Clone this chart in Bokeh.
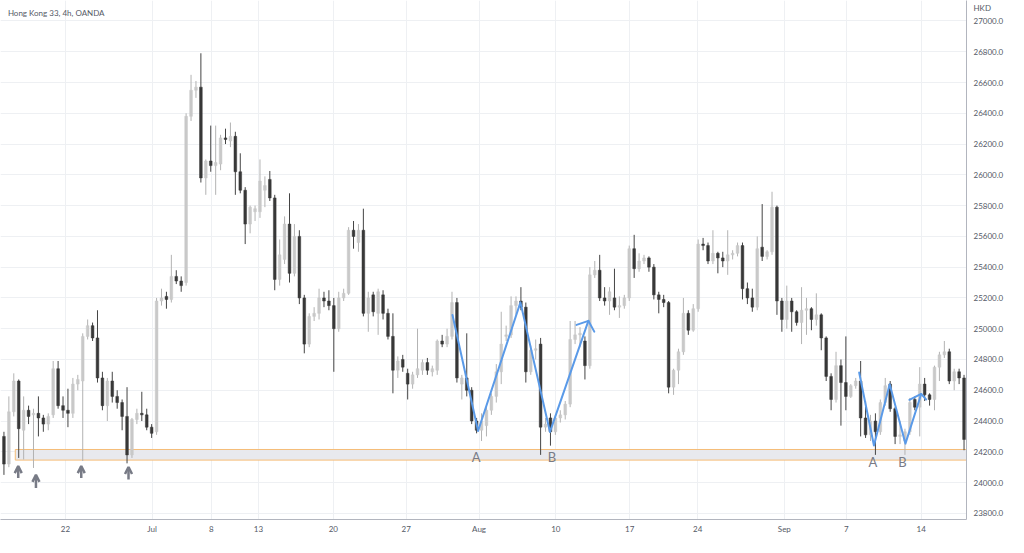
import numpy as np
from bokeh.plotting import figure
from bokeh.models import (ColumnDataSource, FixedTicker, NumeralTickFormatter,
                          Label, Arrow, OpenHead, Range1d)
from bokeh.embed import file_html
from bokeh.resources import INLINE
from bokeh.core.properties import value

# ---- Hong Kong 33, 4h (aggregated bars), OHLC ----
OPEN = [24300, 24120, 24460, 24660, 24340, 24470, 24440, 24450, 24420, 24380,
        24440, 24740, 24500, 24470, 24450, 24640, 24660, 24950, 25020, 24940,
        24680, 24500, 24660, 24560, 24520, 24430, 24180, 24410, 24450, 24440,
        24360, 24330, 25180, 25210, 25190, 25340, 25310, 25300, 26380, 26550,
        26570, 25980, 26090, 26060, 26070, 26240, 26220, 26250, 26020, 25900,
        25680, 25760, 25760, 25900, 25970, 25850, 25320, 25450, 25680, 25360,
        25600, 25200, 24900, 25080, 25100, 25200, 25180, 25150, 25000, 25200,
        25230, 25640, 25560, 25640, 25100, 25220, 25100, 25220, 25100, 24950,
        24730, 24800, 24710, 24640, 24700, 24730, 24780, 24720, 24730, 24920,
        24900, 24950, 25170, 24640, 24680, 24600, 24400, 24340, 24370, 24470,
        24560, 24720, 24950, 24960, 25150, 25180, 25140, 24720, 24860, 24900,
        24360, 24420, 24330, 24420, 24440, 24510, 24930, 24960, 24920, 24760,
        25350, 25380, 25200, 25180, 25200, 25140, 25150, 25200, 25520, 25390,
        25440, 25460, 25400, 25220, 25190, 25170, 24620, 24730, 24850, 25100,
        24990, 25130, 25550, 25540, 25440, 25490, 25460, 25440, 25480, 25490,
        25540, 25260, 25200, 25140, 25530, 25470, 25500, 25790, 25180, 25060,
        25180, 25110, 25040, 25120, 25130, 25060, 25090, 24940, 24690, 24540,
        24760, 24650, 24560, 24630, 24660, 24420, 24310, 24400, 24330, 24520,
        24640, 24480, 24300, 24270, 24330, 24540, 24490, 24640, 24570, 24540,
        24750, 24830, 24850, 24660, 24720, 24680]
HIGH = [24330, 24560, 24710, 24670, 24560, 24500, 24480, 24560, 24440, 24450,
        24790, 24790, 24560, 24610, 24680, 24700, 24970, 25060, 25040, 25120,
        24720, 24680, 24720, 24600, 24540, 24620, 24420, 24480, 24590, 24480,
        24380, 25200, 25260, 25240, 25480, 25380, 25340, 26400, 26650, 26610,
        26790, 26100, 26320, 26320, 26260, 26300, 26340, 26280, 26140, 25920,
        25800, 25800, 26100, 25990, 26025, 25870, 25580, 25730, 25880, 25680,
        25640, 25220, 25100, 25140, 25260, 25240, 25250, 25200, 25240, 25260,
        25660, 25700, 25680, 25780, 25240, 25240, 25260, 25250, 25130, 25100,
        24820, 24830, 24740, 24720, 25000, 24800, 24810, 24760, 24930, 24960,
        25000, 25240, 25200, 24700, 24970, 24620, 24420, 24450, 24490, 24580,
        24770, 25110, 25020, 25210, 25210, 25270, 25170, 24890, 24930, 24940,
        24420, 24450, 24440, 24470, 24530, 25050, 25050, 25010, 24950, 25400,
        25440, 25480, 25270, 25270, 25390, 25210, 25220, 25540, 25610, 25490,
        25480, 25470, 25420, 25240, 25220, 25180, 24740, 24870, 25200, 25120,
        25160, 25580, 25590, 25560, 25640, 25500, 25500, 25640, 25510, 25560,
        25560, 25300, 25260, 25600, 25810, 25510, 25890, 25800, 25200, 25280,
        25200, 25120, 25270, 25200, 25140, 25230, 25100, 24950, 24710, 24850,
        24800, 24950, 24640, 24680, 24790, 24530, 24440, 24450, 24540, 24680,
        24660, 24490, 24400, 24350, 24550, 24560, 24750, 24680, 24580, 24760,
        24850, 24920, 24870, 24740, 24740, 24700]
LOW = [24050, 24100, 24430, 24160, 24150, 24380, 24095, 24300, 24330, 24340,
       24420, 24480, 24420, 24360, 24420, 24600, 24140, 24930, 24920, 24650,
       24470, 24400, 24520, 24480, 24340, 24125, 24160, 24380, 24400, 24340,
       24290, 24310, 25150, 25130, 25170, 25290, 25240, 25280, 26350, 26500,
       25950, 25870, 26020, 25870, 26030, 26200, 26180, 25870, 25880, 25550,
       25620, 25700, 25720, 25790, 25830, 25250, 25280, 25420, 25300, 25340,
       25160, 24840, 24880, 25050, 25060, 25140, 25120, 24720, 24980, 25180,
       25220, 25520, 25500, 25080, 24980, 25080, 24960, 25060, 24930, 24580,
       24680, 24720, 24540, 24610, 24680, 24700, 24700, 24690, 24700, 24880,
       24880, 24930, 24650, 24540, 24560, 24380, 24320, 24270, 24300, 24440,
       24520, 24640, 24920, 24940, 25090, 25120, 24650, 24700, 24800, 24180,
       24330, 24240, 24310, 24390, 24410, 24490, 24900, 24880, 24670, 24740,
       25330, 25180, 25150, 25090, 25120, 25070, 25130, 25180, 25330, 25370,
       25420, 25370, 25190, 25100, 25140, 24580, 24570, 24640, 24830, 24960,
       24980, 25110, 25510, 25420, 25420, 25360, 25400, 25350, 25450, 25470,
       25190, 25160, 25110, 25120, 25440, 25450, 25480, 25090, 24980, 25000,
       24980, 25020, 24900, 24960, 24990, 25020, 24860, 24660, 24470, 24520,
       24370, 24470, 24550, 24610, 24300, 24290, 24270, 24180, 24310, 24500,
       24460, 24250, 24250, 24180, 24310, 24470, 24300, 24530, 24500, 24470,
       24660, 24810, 24640, 24600, 24640, 24210]
CLOSE = [24120, 24460, 24660, 24350, 24470, 24430, 24450, 24420, 24380, 24430,
         24740, 24500, 24470, 24450, 24640, 24670, 24950, 25020, 24940, 24680,
         24500, 24660, 24560, 24520, 24430, 24180, 24410, 24450, 24440, 24360,
         24320, 25180, 25200, 25190, 25340, 25310, 25280, 26380, 26550, 26570,
         25980, 26090, 26060, 26080, 26240, 26230, 26250, 26020, 25900, 25680,
         25790, 25780, 25960, 25930, 25850, 25320, 25480, 25680, 25360, 25600,
         25200, 24900, 25080, 25100, 25200, 25180, 25150, 25000, 25200, 25230,
         25640, 25600, 25640, 25100, 25200, 25110, 25240, 25100, 24950, 24730,
         24790, 24750, 24640, 24700, 24740, 24780, 24730, 24740, 24920, 24900,
         24950, 25170, 24680, 24680, 24600, 24400, 24340, 24400, 24470, 24560,
         24720, 24900, 24960, 25150, 25180, 25140, 24720, 24860, 24870, 24360,
         24380, 24330, 24420, 24440, 24510, 24930, 24960, 24970, 24760, 25350,
         25380, 25200, 25180, 25240, 25140, 25150, 25200, 25520, 25390, 25440,
         25460, 25400, 25220, 25190, 25170, 24620, 24730, 24850, 25100, 24990,
         25130, 25550, 25540, 25440, 25490, 25460, 25440, 25480, 25490, 25540,
         25260, 25200, 25140, 25520, 25470, 25500, 25790, 25180, 25060, 25180,
         25110, 25040, 25120, 25130, 25060, 25090, 24940, 24690, 24540, 24760,
         24650, 24560, 24630, 24660, 24420, 24310, 24400, 24330, 24520, 24630,
         24480, 24300, 24310, 24330, 24520, 24490, 24640, 24570, 24540, 24750,
         24830, 24850, 24660, 24720, 24680, 24280]

DATE_TICKS = [12.5, 30.1, 42.1, 51.7, 66.9, 81.7, 96.5, 112.1, 127.1, 140.9, 158.5, 171.1, 186.3]
DATE_LABELS = ["22", "Jul", "8", "13", "20", "27", "Aug", "10", "17", "24", "Sep", "7", "14"]
PRICE_TICKS = [23800, 24000, 24200, 24400, 24600, 24800, 25000, 25200, 25400, 25600,
               25800, 26000, 26200, 26400, 26600, 26800, 27000]
CURRENCY = "HKD"
CURRENCY_POS = 27085

ZONE_LOW = 24146
ZONE_HIGH = 24215
ZONE_START = 2.3

PAT1_X = [91.1, 96.3, 104.9, 110.9, 118.7]
PAT1_Y = [25089, 24335, 25171, 24329, 25051]
PAT1_HEAD_X = [116.3, 118.7, 119.9]
PAT1_HEAD_Y = [25025, 25051, 24981]
PAT2_X = [173.7, 176.7, 179.9, 183.1, 186.3]
PAT2_Y = [24715, 24241, 24639, 24253, 24576]
PAT2_HEAD_X = [183.9, 186.3, 187.3]
PAT2_HEAD_Y = [24538, 24576, 24540]

ARROW_X = [2.9, 6.5, 15.7, 25.3]
ARROW_TOP = [24107, 24050, 24107, 24101]
ARROW_BOTTOM = [24030, 23965, 24030, 24020]

LETTERS = ["A", "B", "A", "B"]
LETTER_X = [95.9, 111.3, 176.5, 182.5]
LETTER_Y = [24164, 24164, 24133, 24133]

# ---- build ----
FONT = "Lato"
UP_BODY, UP_WICK = "#c9c9c9", "#b3b3b3"
DN_BODY, DN_WICK = "#383838", "#444444"
GRID = "#eef0f3"
TXT = "#555a66"
MARK = "#787b86"
BLUE = "#5a9ae8"
X_END = 195.5

o = np.array(OPEN, float)
h = np.array(HIGH, float)
l = np.array(LOW, float)
c = np.array(CLOSE, float)
idx = np.arange(len(o))
up = c >= o

src = ColumnDataSource(dict(
    x=idx, o=o, h=h, l=l, c=c,
    top=np.maximum(o, c), bot=np.minimum(o, c),
    body=[UP_BODY if u else DN_BODY for u in up],
    wick=[UP_WICK if u else DN_WICK for u in up],
))

p = figure(width=1008, height=537, output_backend="svg", toolbar_location=None,
           x_range=Range1d(-0.7, X_END), y_range=Range1d(23760, 27133),
           y_axis_location="right", min_border_left=0, min_border_top=0,
           min_border_right=42, min_border_bottom=18)
p.background_fill_color = "white"
p.border_fill_color = "white"
p.outline_line_color = None

# axes
p.xaxis.ticker = FixedTicker(ticks=DATE_TICKS)
p.xaxis.major_label_overrides = {t: lab for t, lab in zip(DATE_TICKS, DATE_LABELS)}
p.yaxis.ticker = FixedTicker(ticks=PRICE_TICKS + [CURRENCY_POS])
p.yaxis.formatter = NumeralTickFormatter(format="0.0")
p.yaxis.major_label_overrides = {CURRENCY_POS: CURRENCY}
for ax in (p.xaxis, p.yaxis):
    ax.axis_line_color = "#b2b5be"
    ax.major_tick_line_color = None
    ax.minor_tick_line_color = None
    ax.major_tick_out = 0
    ax.major_tick_in = 0
    ax.minor_tick_out = 0
    ax.minor_tick_in = 0
    ax.major_label_text_font = FONT
    ax.major_label_text_font_size = "8px"
    ax.major_label_text_color = TXT
p.xaxis.major_label_standoff = 4
p.yaxis.major_label_standoff = 7

p.xgrid.ticker = FixedTicker(ticks=DATE_TICKS)
p.ygrid.ticker = FixedTicker(ticks=PRICE_TICKS)
p.xgrid.grid_line_color = GRID
p.ygrid.grid_line_color = GRID

# support zone (drawn first, under the candles)
p.quad(left=[ZONE_START], right=[X_END], bottom=[ZONE_LOW], top=[ZONE_HIGH],
       fill_color="#e8e9ee", line_color=None)
p.segment(x0=[ZONE_START, ZONE_START], x1=[X_END, X_END],
          y0=[ZONE_LOW, ZONE_HIGH], y1=[ZONE_LOW, ZONE_HIGH],
          line_color="#f5bd78", line_width=1)
p.segment(x0=[ZONE_START], x1=[ZONE_START], y0=[ZONE_LOW], y1=[ZONE_HIGH],
          line_color="#f5bd78", line_width=1)

# candles
p.segment(x0="x", y0="h", x1="x", y1="l", source=src, line_color="wick", line_width=1)
p.vbar(x="x", width=0.55, top="top", bottom="bot", source=src,
       fill_color="body", line_color="body", line_width=0.5)

# pattern lines
for xs, ys in ((PAT1_X, PAT1_Y), (PAT1_HEAD_X, PAT1_HEAD_Y),
               (PAT2_X, PAT2_Y), (PAT2_HEAD_X, PAT2_HEAD_Y)):
    p.line(xs, ys, line_color=BLUE, line_width=2, line_join="round", line_cap="round")

# support arrows
asrc = ColumnDataSource(dict(x=ARROW_X, y0=ARROW_BOTTOM, y1=ARROW_TOP))
p.add_layout(Arrow(end=OpenHead(size=7, line_color=MARK, line_width=2.5),
                   x_start="x", y_start="y0", x_end="x", y_end="y1", source=asrc,
                   line_color=MARK, line_width=2.5))

# letters
p.text(x=LETTER_X, y=LETTER_Y, text=LETTERS, text_font=value(FONT),
       text_font_size="13px", text_color=MARK, text_align="center", text_baseline="middle")

# title
p.add_layout(Label(x=0.8, y=27055, text="Hong Kong 33, 4h, OANDA", text_font=FONT,
                   text_font_size="8px", text_color=TXT, text_baseline="middle"))

open("out.html", "w").write(file_html(p, INLINE))
